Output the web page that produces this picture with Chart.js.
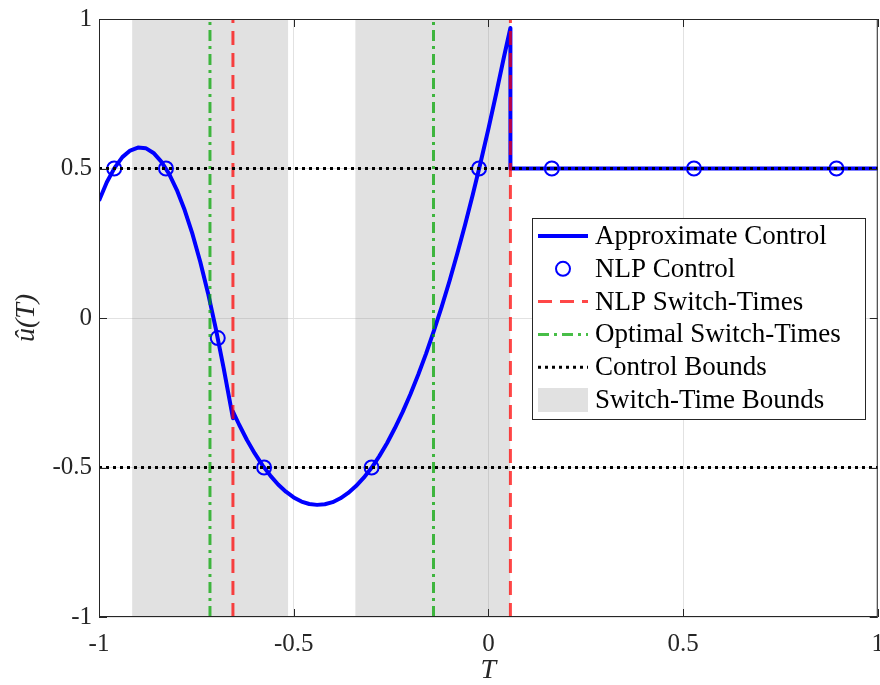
<!DOCTYPE html>
<html>
<head>
<meta charset="utf-8">
<script src="https://cdn.jsdelivr.net/npm/chart.js@4.4.1/dist/chart.umd.min.js"></script>
<style>
  html, body { margin: 0; padding: 0; background: #fff; overflow: hidden; }
  #wrap { position: relative; top: -3px; width: 896px; height: 688px; }
</style>
</head>
<body>
<div id="wrap"><canvas id="ctrl-chart"></canvas></div>
<script>
// approximate control
const T_CURVE = [
  -1, -0.98, -0.96, -0.94, -0.92, -0.9, -0.88, -0.86, -0.84, -0.82, -0.8,
  -0.78, -0.76, -0.74, -0.72, -0.7, -0.68, -0.656,
  -0.656, -0.64, -0.62, -0.6, -0.58, -0.56, -0.54, -0.52, -0.5, -0.48, -0.46,
  -0.44, -0.42, -0.4, -0.38, -0.36, -0.34, -0.32, -0.3, -0.28, -0.26, -0.24,
  -0.22, -0.2, -0.18, -0.16, -0.14, -0.12, -0.1, -0.08, -0.06, -0.04, -0.02,
  0, 0.02, 0.04, 0.0566,
  0.0566, 1,
];
const U_CURVE = [
  0.392, 0.454, 0.502, 0.538, 0.56, 0.57, 0.568, 0.552, 0.523, 0.482, 0.428,
  0.361, 0.281, 0.188, 0.083, -0.036, -0.167, -0.335,
  -0.313, -0.357, -0.408, -0.453, -0.493, -0.527, -0.557, -0.581, -0.6, -0.614, -0.622,
  -0.625, -0.623, -0.616, -0.603, -0.585, -0.562, -0.534, -0.501, -0.462, -0.418, -0.368,
  -0.314, -0.254, -0.189, -0.119, -0.043, 0.037, 0.123, 0.215, 0.311, 0.413, 0.52,
  0.632, 0.75, 0.873, 0.97,
  0.5, 0.5,
];

// NLP nodes (circles)
const T_NODES = [-0.961, -0.828, -0.695, -0.576, -0.3, -0.024, 0.163, 0.528, 0.894];
const U_NODES = [0.5, 0.5, -0.067, -0.5, -0.5, 0.5, 0.5, 0.5, 0.5];

const NLP_SWITCH = [-0.656, 0.0566];
const OPT_SWITCH = [-0.715, -0.141];
const BOUND_LO = [-0.915, -0.342];
const BOUND_HI = [-0.514, 0.0566];
const CONTROL_BOUNDS = [0.5, -0.5];

const X_TICKS = [-1, -0.5, 0, 0.5, 1];
const Y_TICKS = [-1, -0.5, 0, 0.5, 1];

const SERIF = "'Liberation Serif', 'DejaVu Serif', serif";

// vertical lines with a gap between them
function vLines(xs) {
  const out = [];
  xs.forEach((x) => {
    out.push({ x: x, y: -1 }, { x: x, y: 1 }, { x: x, y: null });
  });
  return out;
}

function hLines(ys) {
  const out = [];
  ys.forEach((y) => {
    out.push({ x: -1, y: y }, { x: 1, y: y }, { x: 1, y: null });
  });
  return out;
}

const datasets = [
  {
    label: "Approximate Control",
    data: T_CURVE.map((t, i) => ({ x: t, y: U_CURVE[i] })),
    showLine: true,
    borderColor: "#0000ff",
    borderWidth: 4,
    borderJoinStyle: "round",
    pointRadius: 0,
    tension: 0,
    order: 5,
  },
  {
    label: "NLP Control",
    data: T_NODES.map((t, i) => ({ x: t, y: U_NODES[i] })),
    showLine: false,
    borderColor: "#0000ff",
    backgroundColor: "rgba(0,0,0,0)",
    pointRadius: 7,
    pointBorderWidth: 2,
    order: 4,
  },
  {
    label: "NLP Switch-Times",
    data: vLines(NLP_SWITCH),
    showLine: true,
    spanGaps: false,
    borderColor: "rgba(255,0,0,0.72)",
    borderWidth: 3,
    borderDash: [14, 8],
    pointRadius: 0,
    order: 3,
  },
  {
    label: "Optimal Switch-Times",
    data: vLines(OPT_SWITCH),
    showLine: true,
    spanGaps: false,
    borderColor: "rgba(0,165,0,0.72)",
    borderWidth: 3,
    borderDash: [11, 5, 3, 5],
    pointRadius: 0,
    order: 2,
  },
  {
    label: "Control Bounds",
    data: hLines(CONTROL_BOUNDS),
    showLine: true,
    spanGaps: false,
    borderColor: "#000",
    borderWidth: 3,
    borderDash: [3, 4],
    pointRadius: 0,
    order: 1,
  },
];

BOUND_LO.forEach((lo, i) => {
  datasets.push({
    label: i === 0 ? "Switch-Time Bounds" : "",
    data: [{ x: lo, y: 1 }, { x: BOUND_HI[i], y: 1 }],
    showLine: true,
    fill: "start",
    backgroundColor: "rgba(128,128,128,0.24)",
    borderWidth: 0,
    pointRadius: 0,
    order: 10,
  });
});

// box, inward ticks and the legend
const framePlugin = {
  id: "frame",
  afterDatasetsDraw(chart) {
    const { ctx, chartArea: a, scales } = chart;
    ctx.save();
    ctx.strokeStyle = "#262626";
    ctx.lineWidth = 1;
    ctx.strokeRect(a.left + 0.5, a.top + 0.5, a.right - a.left - 1, a.bottom - a.top - 1);
    const tl = 8;
    ctx.beginPath();
    X_TICKS.forEach((v) => {
      const px = Math.round(scales.x.getPixelForValue(v)) + 0.5;
      ctx.moveTo(px, a.bottom); ctx.lineTo(px, a.bottom - tl);
      ctx.moveTo(px, a.top); ctx.lineTo(px, a.top + tl);
    });
    Y_TICKS.forEach((v) => {
      const py = Math.round(scales.y.getPixelForValue(v)) + 0.5;
      ctx.moveTo(a.left, py); ctx.lineTo(a.left + tl, py);
      ctx.moveTo(a.right, py); ctx.lineTo(a.right - tl, py);
    });
    ctx.stroke();
    ctx.restore();
  },
  afterDraw(chart) {
    const ctx = chart.ctx;
    const box = { x: 532, y: 221, w: 333, h: 201 };
    const rowH = 32.8;
    ctx.save();
    ctx.fillStyle = "#fff";
    ctx.fillRect(box.x, box.y, box.w, box.h);
    ctx.strokeStyle = "#262626";
    ctx.lineWidth = 1;
    ctx.strokeRect(box.x + 0.5, box.y + 0.5, box.w, box.h);
    let row = 0;
    chart.data.datasets.forEach((ds) => {
      if (!ds.label) return;
      const cy = box.y + 18 + row * rowH;
      const x0 = box.x + 6, x1 = box.x + 56;
      if (ds.fill) {
        ctx.fillStyle = ds.backgroundColor;
        ctx.fillRect(x0, cy - 12, x1 - x0, 24);
      } else if (!ds.showLine) {
        ctx.beginPath();
        ctx.arc((x0 + x1) / 2, cy, ds.pointRadius, 0, Math.PI * 2);
        ctx.strokeStyle = ds.borderColor;
        ctx.lineWidth = ds.pointBorderWidth;
        ctx.stroke();
      } else {
        ctx.beginPath();
        ctx.setLineDash(ds.borderDash || []);
        ctx.moveTo(x0, cy); ctx.lineTo(x1, cy);
        ctx.strokeStyle = ds.borderColor;
        ctx.lineWidth = ds.borderWidth;
        ctx.stroke();
        ctx.setLineDash([]);
      }
      ctx.fillStyle = "#000";
      ctx.font = "27px " + SERIF;
      ctx.textBaseline = "middle";
      ctx.textAlign = "left";
      ctx.fillText(ds.label, box.x + 63, cy + 1);
      row++;
    });
    ctx.restore();
  },
};

const ctrlChart = new Chart(document.getElementById("ctrl-chart"), {
  type: "scatter",
  data: { datasets: datasets },
  plugins: [framePlugin],
  options: {
    responsive: true,
    maintainAspectRatio: false,
    animation: false,
    layout: { padding: { top: 3, right: 0, left: 0, bottom: 0 } },
    plugins: { legend: { display: false }, tooltip: { enabled: false } },
    scales: {
      x: {
        type: "linear",
        min: -1,
        max: 1,
        afterBuildTicks: (s) => { s.ticks = X_TICKS.map((v) => ({ value: v })); },
        afterFit: (s) => { s.height = 68; },
        grid: { color: "#e2e2e2", drawTicks: false },
        border: { display: false },
        ticks: {
          padding: 12,
          color: "#262626",
          font: { family: SERIF, size: 25 },
          callback: (v) => String(v),
        },
        title: {
          display: true,
          text: "T",
          color: "#262626",
          padding: { top: 0, bottom: 0 },
          font: { family: SERIF, size: 28, style: "italic", lineHeight: 1 },
        },
      },
      y: {
        type: "linear",
        min: -1,
        max: 1,
        afterBuildTicks: (s) => { s.ticks = Y_TICKS.map((v) => ({ value: v })); },
        afterFit: (s) => { s.width = 99; },
        grid: { color: "#e2e2e2", drawTicks: false },
        border: { display: false },
        ticks: {
          padding: 7,
          color: "#262626",
          font: { family: SERIF, size: 25 },
          callback: (v) => String(v),
        },
        title: {
          display: true,
          text: "\u00fb(T)",
          color: "#262626",
          padding: { top: 13, bottom: 0 },
          font: { family: SERIF, size: 28, style: "italic", lineHeight: 1 },
        },
      },
    },
  },
});
</script>
</body>
</html>
